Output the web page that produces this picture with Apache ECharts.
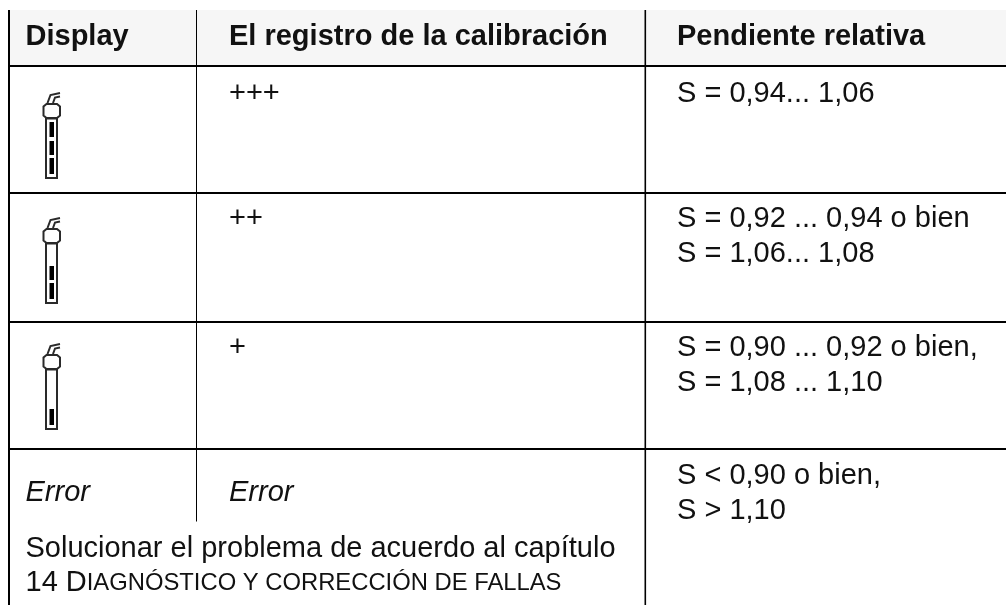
<!DOCTYPE html>
<html><head><meta charset="utf-8">
<style>html,body{margin:0;padding:0;background:#fff}#c{width:1006px;height:605px}</style>
<script src="https://cdn.jsdelivr.net/npm/echarts@6/dist/echarts.min.js"></script>
</head><body><div id="c"></div>
<script>
const headers = ['Display', 'El registro de la calibración', 'Pendiente relativa'];
const displayLevels = [3, 2, 1];
const displayError = 'Error';
const registro = ['+++', '++', '+', 'Error'];
const pendiente = [
  ['S = 0,94... 1,06'],
  ['S = 0,92 ... 0,94 o bien', 'S = 1,06... 1,08'],
  ['S = 0,90 ... 0,92 o bien,', 'S = 1,08 ... 1,10'],
  ['S < 0,90 o bien,', 'S > 1,10']
];
const noteLine1 = 'Solucionar el problema de acuerdo al capítulo';
const noteLine2Parts = [['14 D', 'big'], ['IAGNÓSTICO Y CORRECCIÓN DE FALLAS', 'sm']];

const F = '"Liberation Sans", Arial, sans-serif', INK = '#111';
const colX = [25.5, 229, 677];
const rowBase = [103, 228, 357, 485];
const g = [];
const rect = (x, y, w, h, fill, z) => g.push({type:'rect', shape:{x, y, width:w, height:h}, style:{fill}, z:z||1, silent:true});
const text = (x, base, t, font, extra) => g.push({type:'text', x, y:base, z:5, silent:true,
  style:Object.assign({text:t, x:0, y:0, font, fill:INK, textBaseline:'alphabetic', verticalAlign:'bottom'}, extra||{})});
const BODY = '29px ' + F, BOLD = 'bold 29px ' + F, IT = 'italic 29px ' + F;

rect(9, 10, 997, 55, '#f6f6f6', 0);
rect(8, 10, 2, 595, '#000');
rect(196, 10, 1, 511.5, '#000');
rect(644.5, 10, 1.6, 595, '#000');
[[65, 2], [192, 2], [321, 2], [448, 2]].forEach(l => rect(9, l[0], 997, l[1], '#000'));

headers.forEach((h, i) => text(colX[i], 51, h, BOLD));
registro.forEach((r, i) => {
  if (i < 3) text(colX[1], rowBase[i] + 5.5, r, BODY);
  else text(colX[1], 507, r, IT);
});
pendiente.forEach((lines, i) => lines.forEach((l, j) => text(colX[2], rowBase[i] + 5.5 + j * 35, l, BODY)));
text(colX[0], 507, displayError, IT);
text(colX[0], 563.5, noteLine1, BODY);
g.push({type:'text', x:colX[0], y:597.5, z:5, silent:true, style:{
  rich:{big:{font:BODY, fill:INK}, sm:{font:'23.8px ' + F, fill:INK}},
  text:noteLine2Parts.map(p => '{' + p[1] + '|' + p[0] + '}').join(''), verticalAlign:'bottom', x:0, y:0}});

const STROKE = {stroke:'#2a2a2a', lineWidth:2, fill:'none'};
const probeOffsets = [0, 125, 251];
displayLevels.forEach((lvl, i) => {
  const d = probeOffsets[i];
  const pl = (pts, close) => g.push({type: close ? 'polygon' : 'polyline', shape:{points:pts.map(p => [p[0], p[1] + d])},
    style:Object.assign({}, STROKE), silent:true, z:4});
  pl([[46.5,118],[43.5,115.5],[43.5,106.5],[46.5,104],[57,104],[60,106.5],[60,115.5],[57,118]], true);
  pl([[46,118.5],[46,178],[57,178],[57,118.5]], true);
  pl([[47.5,103],[50.5,95],[60,93]]);
  pl([[53,103],[55,97.5],[60,96.5]]);
  const bars = [[158,174],[141,155],[122,137]];
  bars.slice(0, lvl).forEach(b => rect(49.5, b[0] + d, 4.5, b[1] - b[0], '#000', 4));
});

const chart = echarts.init(document.getElementById('c'), null, {width:1006, height:605});
chart.setOption({animation:false, backgroundColor:'#fff', graphic:{elements:g}});
</script></body></html>
